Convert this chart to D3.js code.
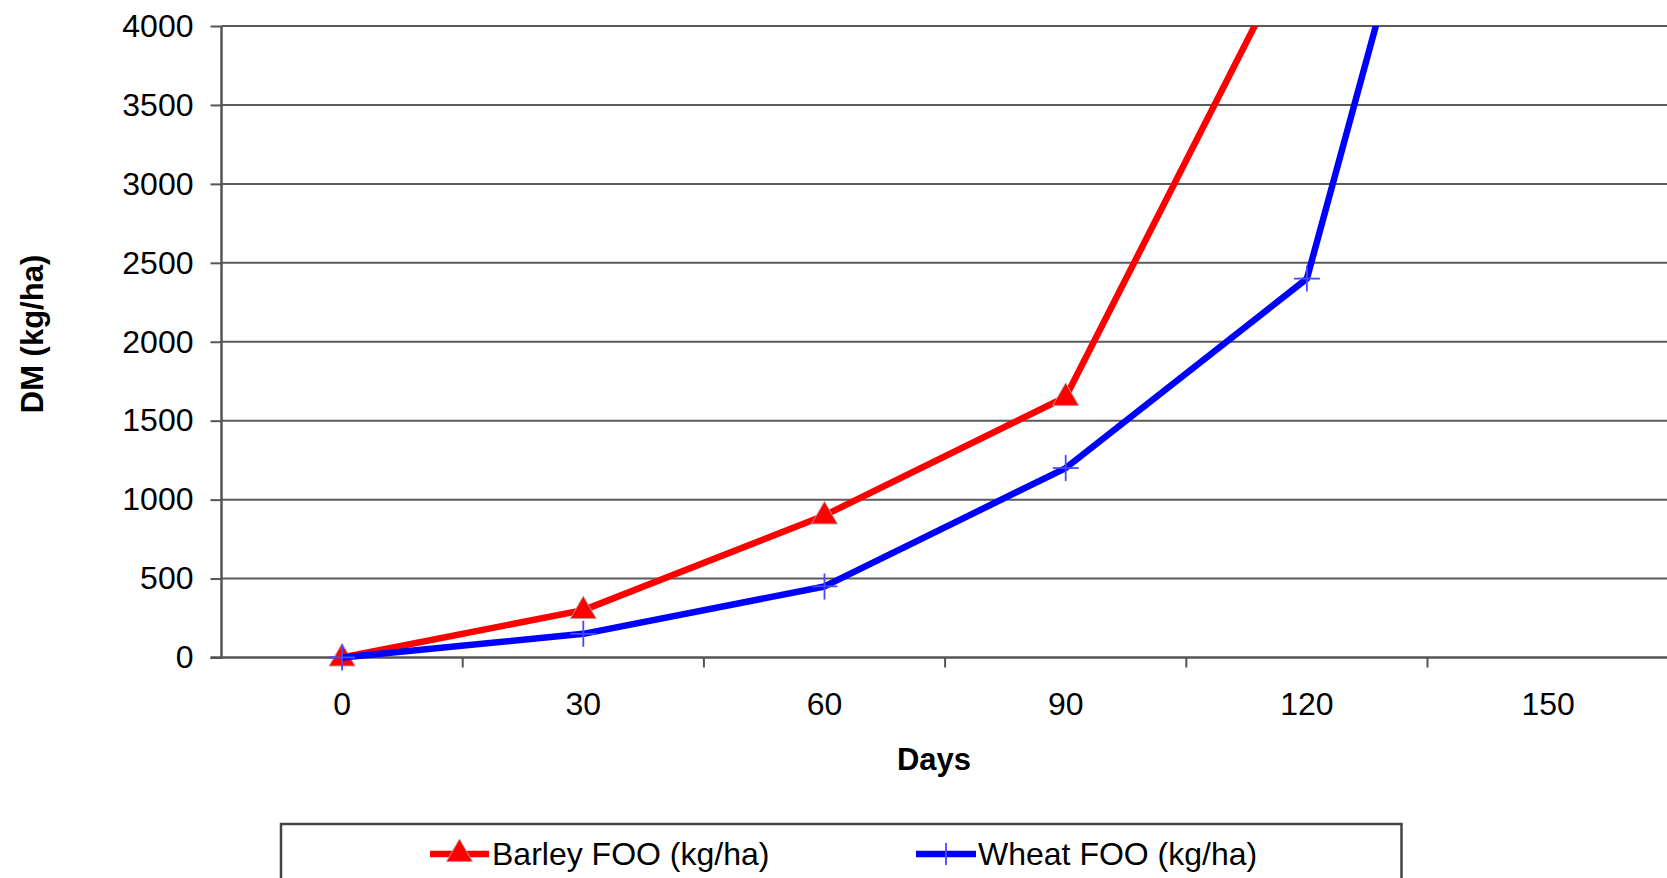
<!DOCTYPE html>
<html>
<head>
<meta charset="utf-8">
<script src="https://cdn.jsdelivr.net/npm/d3@7"></script>
<style>
  html, body { margin: 0; padding: 0; background: #fff; overflow: hidden; }
  svg { display: block; }
  text { font-family: "Liberation Sans", Arial, sans-serif; fill: #000; }
</style>
</head>
<body>
<svg id="chart" width="1667" height="878"></svg>
<script>
// ---- data ----
const categories = [0, 30, 60, 90, 120, 150];
const barleyValues = [0, 300, 900, 1650, 4650];
const wheatValues = [0, 150, 450, 1200, 2400, 8000];
const yTickValues = [0, 500, 1000, 1500, 2000, 2500, 3000, 3500, 4000];
const seriesNames = ["Barley FOO (kg/ha)", "Wheat FOO (kg/ha)"];
const xTitle = "Days";
const yTitle = "DM (kg/ha)";

// ---- layout ----
const W = 1667, H = 878;
const plot = { left: 221.5, right: 1668.7, top: 26, bottom: 657.5 };

const svg = d3.select("#chart");

const x = d3.scaleBand().domain(categories).range([plot.left, plot.right]).paddingInner(0).paddingOuter(0);
const cx = d => x(d) + x.bandwidth() / 2;
const y = d3.scaleLinear().domain([0, 4000]).range([plot.bottom, plot.top]);

// gridlines
svg.append("g").selectAll("line").data(yTickValues.filter(v => v > 0)).join("line")
  .attr("x1", plot.left).attr("x2", W)
  .attr("y1", d => y(d)).attr("y2", d => y(d))
  .attr("stroke", "#5a5a5a").attr("stroke-width", 2);

// y axis
const yAxis = svg.append("g").attr("transform", `translate(${plot.left},0)`)
  .call(d3.axisLeft(y).tickValues(yTickValues).tickSize(11).tickPadding(17).tickFormat(d3.format("d")));
yAxis.select(".domain").remove();
yAxis.selectAll(".tick line").attr("stroke", "#555").attr("stroke-width", 2);
yAxis.selectAll(".tick text").style("font-size", "32px").style("font-family", "Liberation Sans, Arial, sans-serif").attr("fill", "#000");
svg.append("line").attr("x1", plot.left).attr("x2", plot.left).attr("y1", plot.top).attr("y2", plot.bottom + 1)
  .attr("stroke", "#555").attr("stroke-width", 2.5);

// x axis line
svg.append("line").attr("x1", plot.left - 11).attr("x2", W).attr("y1", plot.bottom).attr("y2", plot.bottom)
  .attr("stroke", "#555").attr("stroke-width", 2.5);
// x tick marks at category boundaries
svg.append("g").selectAll("line").data(categories.slice(1)).join("line")
  .attr("x1", d => x(d)).attr("x2", d => x(d))
  .attr("y1", plot.bottom).attr("y2", plot.bottom + 10)
  .attr("stroke", "#555").attr("stroke-width", 2);
// x tick labels
svg.append("g").selectAll("text").data(categories).join("text")
  .attr("x", d => cx(d)).attr("y", 704)
  .attr("text-anchor", "middle").attr("dominant-baseline", "central")
  .style("font-size", "32px").text(d => d);

// axis titles
svg.append("text").attr("x", 934).attr("y", 759)
  .attr("text-anchor", "middle").attr("dominant-baseline", "central")
  .style("font-size", "31px").style("font-weight", "bold").text(xTitle);
svg.append("text").attr("transform", "translate(32,334) rotate(-90)")
  .attr("text-anchor", "middle").attr("dominant-baseline", "central")
  .style("font-size", "31px").style("font-weight", "bold").text(yTitle);

// clip
svg.append("clipPath").attr("id", "plotclip").append("rect")
  .attr("x", plot.left).attr("y", plot.top).attr("width", W - plot.left).attr("height", plot.bottom - plot.top + 30);

const line = d3.line().x(d => cx(d[0])).y(d => y(d[1]));
const barley = barleyValues.map((v, i) => [categories[i], v]);
const wheat = wheatValues.map((v, i) => [categories[i], v]);

const g = svg.append("g").attr("clip-path", "url(#plotclip)");
const tri = d3.symbol().type(d3.symbolTriangle).size(290);

// barley
g.append("path").datum(barley).attr("d", line)
  .attr("fill", "none").attr("stroke", "#ff0000").attr("stroke-width", 6.5).attr("stroke-linejoin", "round");
g.append("g").selectAll("path").data(barley).join("path")
  .attr("d", tri).attr("transform", d => `translate(${cx(d[0])},${y(d[1]) + 1})`)
  .attr("fill", "#ff0000").attr("stroke", "#b89a9a").attr("stroke-width", 1);

// wheat
g.append("path").datum(wheat).attr("d", line)
  .attr("fill", "none").attr("stroke", "#0000ff").attr("stroke-width", 6.5).attr("stroke-linejoin", "round");
const cross = g.append("g").selectAll("g").data(wheat).join("g")
  .attr("transform", d => `translate(${cx(d[0])},${y(d[1])})`);
cross.append("line").attr("x1", -13).attr("x2", 13).attr("stroke", "#4848ff").attr("stroke-width", 1.8);
cross.append("line").attr("y1", -13).attr("y2", 13).attr("stroke", "#4848ff").attr("stroke-width", 1.8);

// legend
const leg = svg.append("g");
leg.append("rect").attr("x", 281).attr("y", 824).attr("width", 1120.5).attr("height", 90)
  .attr("fill", "#fff").attr("stroke", "#444").attr("stroke-width", 2.5);
const legY = 854;
leg.append("line").attr("x1", 430).attr("x2", 489).attr("y1", legY).attr("y2", legY)
  .attr("stroke", "#ff0000").attr("stroke-width", 6.5);
leg.append("path").attr("d", tri).attr("transform", `translate(459.5,${legY})`)
  .attr("fill", "#ff0000").attr("stroke", "#b89a9a").attr("stroke-width", 1);
leg.append("text").attr("x", 492).attr("y", legY).attr("dominant-baseline", "central")
  .style("font-size", "32px").text(seriesNames[0]);
leg.append("line").attr("x1", 916).attr("x2", 976).attr("y1", legY).attr("y2", legY)
  .attr("stroke", "#0000ff").attr("stroke-width", 6.5);
leg.append("line").attr("x1", 946).attr("x2", 946).attr("y1", legY - 11).attr("y2", legY + 11)
  .attr("stroke", "#4848ff").attr("stroke-width", 1.8);
leg.append("text").attr("x", 978).attr("y", legY).attr("dominant-baseline", "central")
  .style("font-size", "32px").text(seriesNames[1]);
</script>
</body>
</html>
